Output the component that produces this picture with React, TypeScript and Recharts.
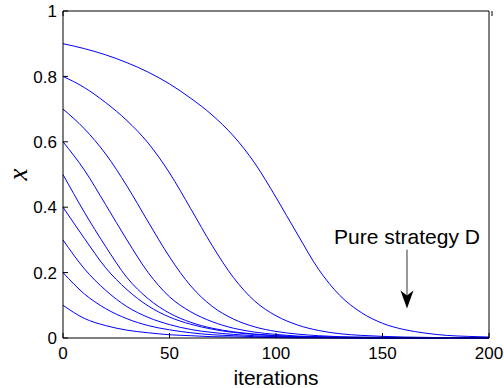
import { LineChart, Line, XAxis, YAxis, ReferenceLine } from "recharts";

const iterations = [0, 10, 20, 30, 40, 50, 60, 70, 80, 90, 100, 110, 120, 130, 140, 150, 160, 170, 180, 190, 200];

const x90 = [0.9, 0.885, 0.866, 0.842, 0.813, 0.777, 0.733, 0.682, 0.618, 0.535, 0.43, 0.318, 0.21, 0.13, 0.078, 0.045, 0.026, 0.015, 0.008, 0.005, 0.003];
const x80 = [0.8, 0.766, 0.72, 0.665, 0.596, 0.505, 0.395, 0.283, 0.185, 0.113, 0.068, 0.04, 0.023, 0.013, 0.008, 0.005, 0.003, 0.002, 0.001, 0.001, 0];
const x70 = [0.7, 0.64, 0.563, 0.465, 0.355, 0.248, 0.159, 0.097, 0.058, 0.034, 0.02, 0.012, 0.007, 0.004, 0.003, 0.002, 0.001, 0, 0, 0, 0];
const x60 = [0.6, 0.514, 0.408, 0.3, 0.2, 0.126, 0.08, 0.05, 0.03, 0.018, 0.011, 0.006, 0.004, 0.002, 0.001, 0, 0, 0, 0, 0, 0];
const x50 = [0.5, 0.385, 0.28, 0.185, 0.12, 0.076, 0.048, 0.03, 0.019, 0.012, 0.007, 0.004, 0.003, 0.002, 0.001, 0, 0, 0, 0, 0, 0];
const x40 = [0.4, 0.305, 0.215, 0.148, 0.098, 0.064, 0.042, 0.027, 0.017, 0.011, 0.007, 0.004, 0.003, 0.002, 0.001, 0, 0, 0, 0, 0, 0];
const x30 = [0.3, 0.212, 0.146, 0.096, 0.063, 0.041, 0.026, 0.017, 0.011, 0.007, 0.004, 0.003, 0.002, 0.001, 0, 0, 0, 0, 0, 0, 0];
const x20 = [0.2, 0.135, 0.09, 0.059, 0.038, 0.025, 0.016, 0.01, 0.007, 0.004, 0.003, 0.002, 0.001, 0, 0, 0, 0, 0, 0, 0, 0];
const x10 = [0.1, 0.06, 0.038, 0.024, 0.016, 0.01, 0.007, 0.004, 0.003, 0.002, 0.001, 0, 0, 0, 0, 0, 0, 0, 0, 0, 0];

const xTicks = [0, 50, 100, 150, 200];
const yTicks = [0, 0.2, 0.4, 0.6, 0.8, 1];

// where the "Pure strategy D" arrow sits, in data units
const arrowX = 161.5;
const arrowFrom = 0.27;
const arrowTo = 0.09;

const series = [x10, x20, x30, x40, x50, x60, x70, x80, x90];
const keys = ["x10", "x20", "x30", "x40", "x50", "x60", "x70", "x80", "x90"];

const data = iterations.map((t, i) => {
  const row: Record<string, number> = { t };
  series.forEach((s, k) => (row[keys[k]] = s[i]));
  return row;
});

const font = "'Liberation Sans', Arial, Helvetica, sans-serif";
const TICK = 5;

// matlab style: tick marks point into the plot box
const BottomTick = ({ x, y, payload }: any) => (
  <g>
    <line x1={x} y1={y} x2={x} y2={y - TICK} stroke="#000" />
    <text x={x} y={y + 21} textAnchor="middle" fontSize={17} fontFamily={font} fill="#000">
      {payload.value}
    </text>
  </g>
);

const LeftTick = ({ x, y, payload }: any) => (
  <g>
    <line x1={x} y1={y} x2={x + TICK} y2={y} stroke="#000" />
    <text x={x - 6} y={y} dy="0.36em" textAnchor="end" fontSize={17} fontFamily={font} fill="#000">
      {payload.value}
    </text>
  </g>
);

const TopTick = ({ x, y }: any) => <line x1={x} y1={y} x2={x} y2={y + TICK} stroke="#000" />;
const RightTick = ({ x, y }: any) => <line x1={x} y1={y} x2={x - TICK} y2={y} stroke="#000" />;

const ArrowShape = (p: any) => {
  const { x1, y1, x2, y2 } = p;
  const head = 18;
  return (
    <g>
      <text x={x1} y={y1 - 6} textAnchor="middle" fontSize={21} fontFamily={font} fill="#000">
        Pure strategy D
      </text>
      <line x1={x1} y1={y1} x2={x2} y2={y2 - 12} stroke="#333" strokeWidth={1} />
      <path
        d={`M${x2},${y2} L${x2 - 6.5},${y2 - head} L${x2},${y2 - 13} L${x2 + 6.5},${y2 - head} Z`}
        fill="#000"
      />
    </g>
  );
};

export default function App() {
  return (
    <div style={{ position: "absolute", left: 0, top: 0, width: 504, height: 388, background: "#fff" }}>
      <LineChart width={504} height={388} data={data} margin={{ top: 10, right: 14, bottom: 20, left: 23 }}>
        <XAxis
          dataKey="t"
          type="number"
          domain={[0, 200]}
          ticks={xTicks}
          height={30}
          tickSize={0}
          tickMargin={0}
          tickLine={false}
          stroke="#000"
          tick={BottomTick}
          label={{
            content: ({ viewBox }: any) => (
              <text x={viewBox.x + viewBox.width / 2} y={viewBox.y + 47} textAnchor="middle" fontSize={21} fontFamily={font} fill="#000">
                iterations
              </text>
            ),
          }}
        />
        <XAxis xAxisId="top" orientation="top" type="number" domain={[0, 200]} ticks={xTicks} height={1} tickSize={0} tickMargin={0} tickLine={false} tick={TopTick} stroke="#000" />
        <YAxis
          type="number"
          domain={[0, 1]}
          ticks={yTicks}
          width={40}
          tickSize={0}
          tickMargin={0}
          tickLine={false}
          stroke="#000"
          tick={LeftTick}
          label={{
            content: ({ viewBox }: any) => {
              const cx = viewBox.x - 5;
              const cy = viewBox.y + viewBox.height / 2;
              return (
                <text x={cx} y={cy} transform={`rotate(-90, ${cx}, ${cy})`} textAnchor="middle" dominantBaseline="central" fontSize={27} fontStyle="italic" fontFamily="'Liberation Serif', 'DejaVu Serif', serif" fill="#000">
                  x
                </text>
              );
            },
          }}
        />
        <YAxis yAxisId="right" orientation="right" type="number" domain={[0, 1]} ticks={yTicks} width={1} tickSize={0} tickMargin={0} tickLine={false} tick={RightTick} stroke="#000" />
        {keys.map((k) => (
          <Line key={k} dataKey={k} type="monotone" stroke="#0000ff" strokeWidth={1} dot={false} isAnimationActive={false} />
        ))}
        <ReferenceLine
          segment={[{ x: arrowX, y: arrowFrom }, { x: arrowX, y: arrowTo }]}
          shape={ArrowShape}
          ifOverflow="visible"
        />
      </LineChart>
    </div>
  );
}
